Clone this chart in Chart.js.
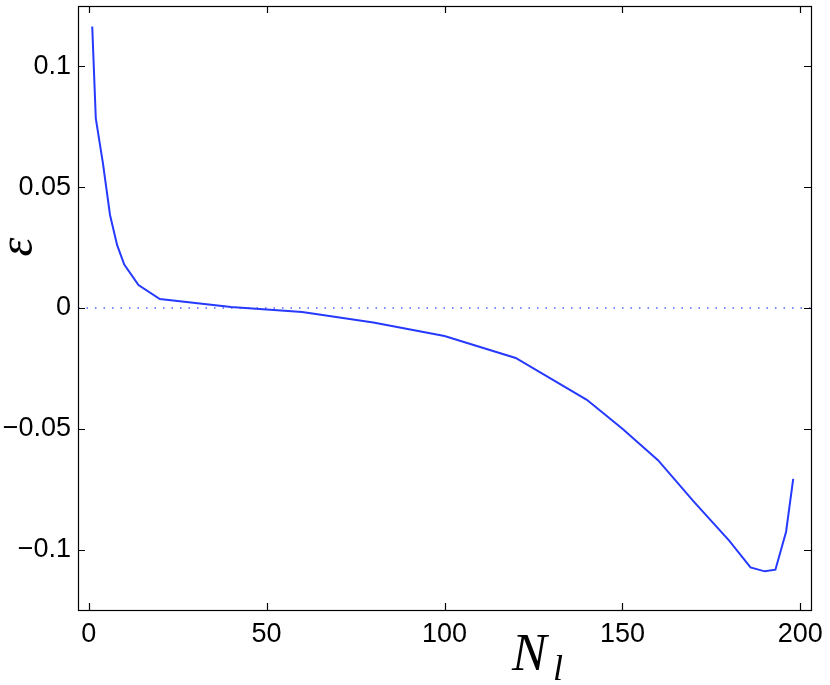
<!DOCTYPE html>
<html lang="en">
<head>
<meta charset="UTF-8" />
<title>epsilon vs N_l</title>
<script src="https://cdn.jsdelivr.net/npm/chart.js"></script>
<style>
  body { margin: 0; background: #fff; }
  canvas { display: block; }
</style>
</head>
<body>
<canvas id="epsChart" width="830" height="685"></canvas>
<script>
  // data
  const nl = [1, 2, 4, 6, 8, 10, 14, 20, 40, 60, 80, 100, 120, 140, 150, 160, 170, 180, 186, 190, 193, 196, 198];
  const eps = [0.1165, 0.0785, 0.060, 0.0385, 0.026, 0.018, 0.0095, 0.0037, 0.0004, -0.0017, -0.006, -0.0116,
               -0.0207, -0.038, -0.050, -0.063, -0.080, -0.0963, -0.1074, -0.109, -0.1083, -0.0926, -0.0707];
  const zeroLineX = [-3, 203];
  const xTicks = [0, 50, 100, 150, 200];
  const yTicks = [-0.1, -0.05, 0, 0.05, 0.1];

  const tickFont = { family: 'Liberation Sans, Arial, sans-serif', size: 27 };

  // box around the axes plus inward ticks on all four sides
  const boxPlugin = {
    id: 'box',
    afterDraw(chart) {
      const { ctx, chartArea: a, scales } = chart;
      ctx.save();
      ctx.strokeStyle = '#000';
      ctx.lineWidth = 1.2;
      ctx.strokeRect(a.left + 0.5, a.top + 0.5, a.right - a.left, a.bottom - a.top);
      const len = 7;
      ctx.beginPath();
      xTicks.forEach(v => {
        const x = Math.round(scales.x.getPixelForValue(v)) + 0.5;
        ctx.moveTo(x, a.bottom); ctx.lineTo(x, a.bottom - len);
        ctx.moveTo(x, a.top); ctx.lineTo(x, a.top + len);
      });
      yTicks.forEach(v => {
        const y = Math.round(scales.y.getPixelForValue(v)) + 0.5;
        ctx.moveTo(a.left, y); ctx.lineTo(a.left + len, y);
        ctx.moveTo(a.right, y); ctx.lineTo(a.right - len, y);
      });
      ctx.stroke();

      // axis labels
      ctx.fillStyle = '#000';
      ctx.textBaseline = 'alphabetic';
      ctx.textAlign = 'left';
      ctx.font = 'italic 52px "Liberation Serif", "Times New Roman", serif';
      ctx.fillText('N', 512, 670);
      ctx.font = 'italic 36px "Liberation Serif", "Times New Roman", serif';
      ctx.fillText('l', 553, 680);

      ctx.translate(19, 247);
      ctx.rotate(-Math.PI / 2);
      ctx.textAlign = 'center';
      ctx.textBaseline = 'middle';
      ctx.font = 'italic 48px "Liberation Serif", "Times New Roman", serif';
      ctx.fillText('\u03b5', 0, 0);
      ctx.restore();
    }
  };

  new Chart(document.getElementById('epsChart').getContext('2d'), {
    type: 'line',
    data: {
      datasets: [
        {
          data: nl.map((x, i) => ({ x: x, y: eps[i] })),
          borderColor: 'rgb(38,58,255)',
          borderWidth: 2,
          pointRadius: 0,
          tension: 0,
          fill: false
        },
        {
          data: zeroLineX.map(x => ({ x: x, y: 0 })),
          borderColor: 'rgb(80,100,255)',
          borderWidth: 1.4,
          borderDash: [1.5, 7],
          pointRadius: 0,
          fill: false
        }
      ]
    },
    options: {
      responsive: false,
      animation: false,
      devicePixelRatio: 1,
      layout: { padding: { top: 6, right: 19, left: 0, bottom: 0 } },
      plugins: { legend: { display: false }, tooltip: { enabled: false } },
      scales: {
        x: {
          type: 'linear',
          min: -3,
          max: 203,
          afterBuildTicks: s => { s.ticks = xTicks.map(v => ({ value: v })); },
          afterFit: s => { s.height = 75; s.paddingLeft = 0; s.paddingRight = 0; },
          grid: { display: false, drawTicks: false },
          border: { display: false },
          ticks: { font: tickFont, color: '#000', padding: 8, maxRotation: 0 }
        },
        y: {
          min: -0.125,
          max: 0.125,
          afterBuildTicks: s => { s.ticks = yTicks.map(v => ({ value: v })); },
          afterFit: s => { s.width = 78; s.paddingTop = 0; s.paddingBottom = 0; },
          grid: { display: false, drawTicks: false },
          border: { display: false },
          ticks: {
            font: tickFont,
            color: '#000',
            padding: 7,
            callback: v => v === 0 ? '0' : (v < 0 ? '\u2212' : '') + String(Math.abs(Math.round(v * 100) / 100))
          }
        }
      }
    },
    plugins: [boxPlugin]
  });
</script>
</body>
</html>
